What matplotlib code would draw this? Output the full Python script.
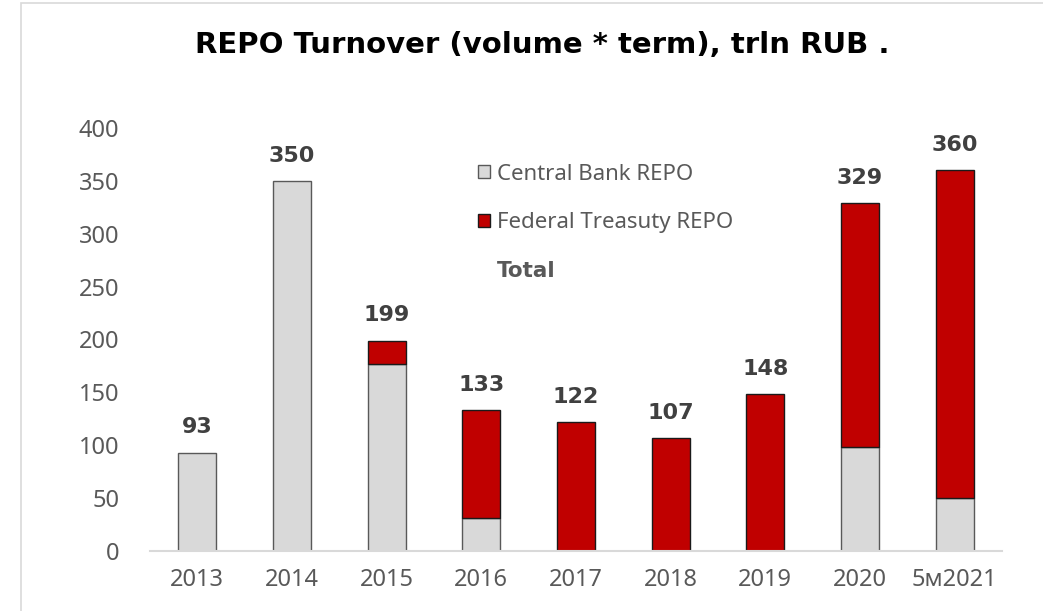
import numpy as np
import matplotlib
matplotlib.use("Agg")
from matplotlib import pyplot as plt
from matplotlib.patches import Patch, Rectangle

years = ['2013', '2014', '2015', '2016', '2017', '2018', '2019', '2020', '5м2021']
central_bank = [93, 350, 177, 31, 0, 0, 0, 98, 50]
fed_treasury = [0, 0, 22, 102, 122, 107, 148, 231, 310]
totals = [93, 350, 199, 133, 122, 107, 148, 329, 360]

plt.rcParams['font.family'] = ['Noto Sans', 'DejaVu Sans']
bold_font = ['DejaVu Sans']

fig = plt.figure(figsize=(10.43, 6.11), dpi=100)
# light frame around the chart area
fig.patches.append(Rectangle((21 / 1043, -0.01), 1.05, 1 - 3 / 611 + 0.01,
                             transform=fig.transFigure, fill=False,
                             edgecolor='#d9d9d9', linewidth=1.2))

ax = fig.add_axes([150 / 1043, 60 / 611, 852 / 1043, 423 / 611])

x = np.arange(len(years))
w = 0.4
ax.bar(x, central_bank, w, color='#d9d9d9', edgecolor='#595959', linewidth=1.0,
       label='Central Bank REPO')
fed_x = [xi for xi, v in zip(x, fed_treasury) if v > 0]
fed_v = [v for v in fed_treasury if v > 0]
fed_b = [b for b, v in zip(central_bank, fed_treasury) if v > 0]
ax.bar(fed_x, fed_v, w, bottom=fed_b, color='#c00000', edgecolor='#1a1a1a',
       linewidth=1.0, label='Federal Treasuty REPO')

for xi, t in zip(x, totals):
    ax.annotate(str(t), (xi, t), xytext=(0, 11), textcoords='offset points',
                ha='center', va='bottom', fontsize=16, fontweight='bold',
                color='#404040', family=bold_font)

ax.set_xlim(-0.5, len(years) - 0.5)
ax.set_ylim(0, 400)
ax.set_yticks(np.arange(0, 401, 50))
ax.set_xticks(x)
ax.set_xticklabels(years)
ax.tick_params(axis='both', length=0, labelsize=17, labelcolor='#595959')
ax.tick_params(axis='y', pad=22)
ax.tick_params(axis='x', pad=12)
for s in ['top', 'right', 'left']:
    ax.spines[s].set_visible(False)
ax.spines['bottom'].set_color('#d9d9d9')
ax.spines['bottom'].set_linewidth(1.5)

handles = [Patch(facecolor='#d9d9d9', edgecolor='#595959', linewidth=1.0),
           Patch(facecolor='#c00000', edgecolor='#1a1a1a', linewidth=1.0),
           Patch(alpha=0)]
leg = ax.legend(handles, ['Central Bank REPO', 'Federal Treasuty REPO', 'Total'],
                loc='upper left', bbox_to_anchor=(0.362, 0.963), frameon=False,
                fontsize=16, labelcolor='#595959', handlelength=0.5,
                handleheight=0.5, handletextpad=0.33, labelspacing=1.25)
tot = leg.get_texts()[2]
tot.set_fontweight('bold')
tot.set_family(bold_font)
tot.set_fontsize(15.5)

fig.text(542 / 1043, 1 - 45 / 611, 'REPO Turnover (volume * term), trln RUB .',
         ha='center', va='center', fontsize=21, fontweight='bold', color='black',
         family=bold_font)

fig.savefig('out.png', dpi=100)
